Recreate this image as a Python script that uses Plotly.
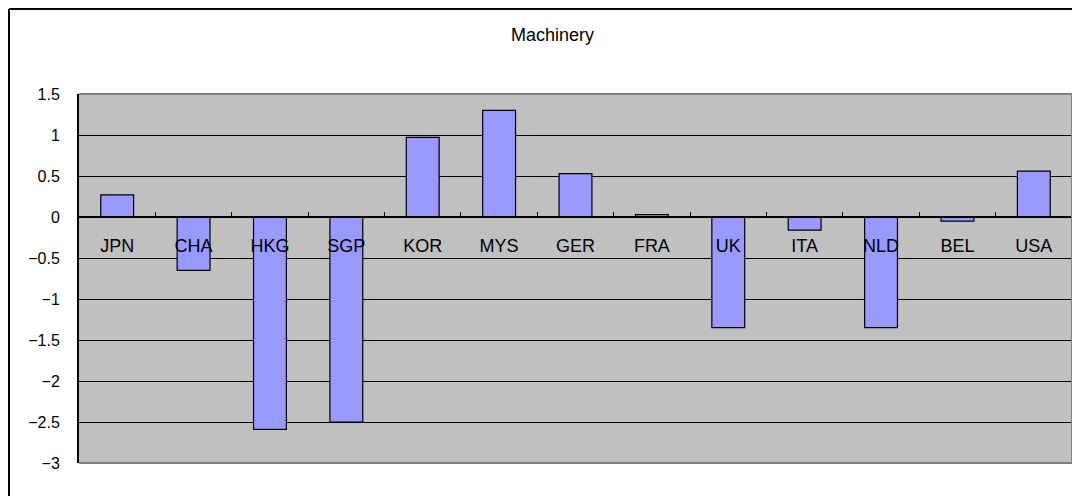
import plotly.graph_objects as go

categories = ["JPN", "CHA", "HKG", "SGP", "KOR", "MYS", "GER", "FRA", "UK", "ITA", "NLD", "BEL", "USA"]
values = [0.27, -0.65, -2.59, -2.50, 0.97, 1.30, 0.53, 0.03, -1.35, -0.16, -1.35, -0.05, 0.56]
title_text = "Machinery"

# page is offset by the default 8px body margin
OFF = 8
W, H = 1080 - OFF, 496 - OFF
L, T = 79 - OFF, 94 - OFF
R = W - (1072 - OFF)
B = H - (463 - OFF)
pw, ph = W - L - R, H - T - B


def px(page_x):
    return (page_x - OFF - L) / pw


def py(page_y):
    return (H - B - (page_y - OFF)) / ph


fig = go.Figure()
fig.add_trace(go.Bar(
    x=categories, y=values,
    marker=dict(color="#9999FF", line=dict(color="black", width=1.2)),
    showlegend=False,
))

FONT = "Liberation Sans, Arial, sans-serif"
ymin, ymax = -3, 1.5

fig.update_layout(
    width=W, height=H,
    margin=dict(l=L, r=R, t=T, b=B, pad=0),
    paper_bgcolor="white",
    plot_bgcolor="#C0C0C0",
    bargap=0.57,
    font=dict(family=FONT, color="black"),
    xaxis=dict(
        type="category",
        range=[-0.5, len(categories) - 0.5],
        anchor="free",
        position=(0 - ymin) / (ymax - ymin),
        showline=True, linecolor="black", linewidth=2,
        ticks="inside", ticklen=4, tickcolor="black", tickwidth=1,
        tickson="boundaries",
        showgrid=False,
        ticklabelstandoff=12,
        tickfont=dict(size=18, family=FONT),
        fixedrange=True,
    ),
    yaxis=dict(
        range=[ymin, ymax],
        dtick=0.5, tick0=0,
        showgrid=True, gridcolor="black", gridwidth=1,
        zeroline=True, zerolinecolor="black", zerolinewidth=2,
        showline=True, linecolor="black", linewidth=2,
        ticks="outside", ticklen=14, tickcolor="rgba(0,0,0,0)",
        tickfont=dict(size=16, family=FONT),
        fixedrange=True,
    ),
    annotations=[dict(
        text=title_text, xref="paper", yref="paper",
        x=px(552), y=py(35), xanchor="center", yanchor="middle",
        showarrow=False, font=dict(size=18, family=FONT, color="black"),
    )],
    shapes=[
        # plot area border (gray) top, right, bottom
        dict(type="line", xref="paper", yref="paper", x0=0, x1=1, y0=1, y1=1,
             line=dict(color="#808080", width=2)),
        dict(type="line", xref="paper", yref="paper", x0=1, x1=1, y0=0, y1=1,
             line=dict(color="#808080", width=2)),
        dict(type="line", xref="paper", yref="paper", x0=0, x1=1, y0=0, y1=0,
             line=dict(color="#808080", width=2)),
        # outer chart frame (top and left)
        dict(type="line", xref="paper", yref="paper", x0=px(9), x1=px(1080), y0=py(9), y1=py(9),
             line=dict(color="black", width=2)),
        dict(type="line", xref="paper", yref="paper", x0=px(9), x1=px(9), y0=py(9), y1=py(496),
             line=dict(color="black", width=2)),
    ],
)

fig.write_html("out.html", config=dict(displayModeBar=False))
